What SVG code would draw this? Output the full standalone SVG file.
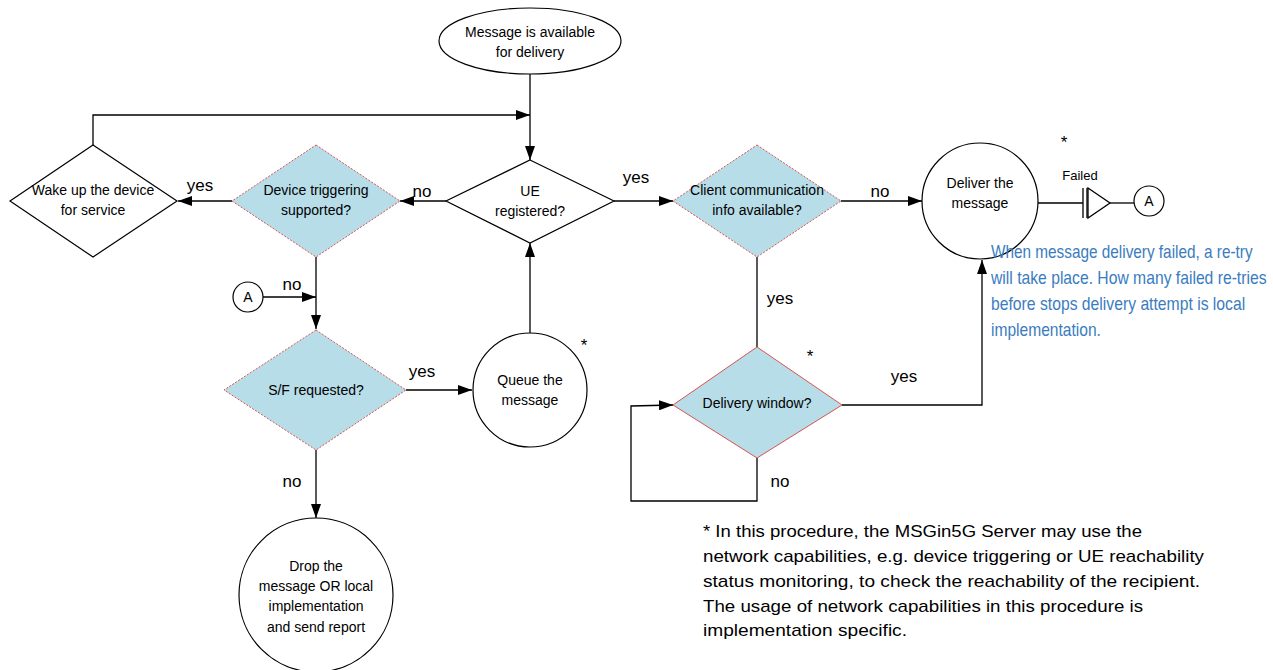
<svg xmlns="http://www.w3.org/2000/svg" width="1273" height="670" viewBox="0 0 1273 670">
<style>
.ln{fill:none;stroke:#000;stroke-width:1.3}
.arr{marker-end:url(#ah)}
.wd{fill:#fff;stroke:#000;stroke-width:1.2}
.bd{fill:#b7dde8;stroke:#d9534f;stroke-width:1;stroke-dasharray:2,1.5}
.bds{fill:#b7dde8;stroke:#d9534f;stroke-width:1}
.cir{fill:#fff;stroke:#000;stroke-width:1.2}
.t{font-family:"Liberation Sans",Arial,sans-serif;font-size:14px;fill:#000;text-anchor:middle}
.lb{font-family:"Liberation Sans",Arial,sans-serif;font-size:17px;fill:#000;text-anchor:middle}
.bl{font-family:"Liberation Sans",Arial,sans-serif;font-size:18px;fill:#3a7cc0}
.fn{font-family:"Liberation Sans",Arial,sans-serif;font-size:17px;fill:#000}
</style>
<defs>
<marker id="ah" markerUnits="userSpaceOnUse" markerWidth="14" markerHeight="10" viewBox="0 0 14 10" refX="14" refY="5" orient="auto">
<path d="M0,0 L14,5 L0,10 z" fill="#000"/>
</marker>
</defs>

<g id="connectors">
<path class="ln arr" d="M530,74 L530,160"/>
<path class="ln arr" d="M93,145 L93,115 L530,115"/>
<path class="ln arr" d="M446,201 L400,201"/>
<path class="ln arr" d="M232,201 L178,201"/>
<path class="ln arr" d="M316,257 L316,329"/>
<path class="ln arr" d="M263,297 L316,297"/>
<path class="ln arr" d="M406,390 L472,390"/>
<path class="ln arr" d="M530,333 L530,243"/>
<path class="ln arr" d="M316,450 L316,518"/>
<path class="ln arr" d="M614,201 L673,201"/>
<path class="ln arr" d="M841,201 L922,201"/>
<path class="ln" d="M757,257 L757,347"/>
<path class="ln arr" d="M842,405 L982,405 L982,260"/>
<path class="ln arr" d="M757,458 L757,501 L631,501 L631,406 L673,405"/>
<path class="ln" d="M1038,203 L1083,203"/>
<path class="ln" d="M1083,188 L1083,218 M1087,188 L1087,218"/>
<path class="ln" d="M1088,188 L1110,203 L1088,218 Z"/>
<path class="ln" d="M1110,203 L1134,203"/>
</g>

<g id="start">
<ellipse cx="530" cy="41" rx="91" ry="33" class="cir"/>
<text class="t" x="530" y="37">Message is available</text>
<text class="t" x="530" y="57">for delivery</text>
</g>

<g id="ue-registered">
<polygon class="wd" points="530,160 614,201 530,243 446,201"/>
<text class="t" x="530" y="196">UE</text>
<text class="t" x="530" y="216">registered?</text>
</g>

<g id="device-triggering">
<polygon class="bd" points="316,145 400,201 316,257 232,201"/>
<text class="t" x="316" y="195">Device triggering</text>
<text class="t" x="316" y="215">supported?</text>
</g>

<g id="wake-up">
<polygon class="wd" points="93,145 177,201 93,257 10,201"/>
<text class="t" x="93" y="195">Wake up the device</text>
<text class="t" x="93" y="215">for service</text>
</g>

<g id="connector-a-left">
<circle cx="248" cy="297" r="15" class="cir"/>
<text class="t" x="248" y="302">A</text>
</g>

<g id="sf-requested">
<polygon class="bd" points="316,330 406,390 316,450 224,390"/>
<text class="t" x="316" y="395">S/F requested?</text>
</g>

<g id="queue">
<circle cx="530" cy="390" r="57" class="cir"/>
<text class="t" x="530" y="385">Queue the</text>
<text class="t" x="530" y="405">message</text>
<text class="lb" x="584" y="351">*</text>
</g>

<g id="drop">
<circle cx="316" cy="595" r="77" class="cir"/>
<text class="t" x="316" y="571">Drop the</text>
<text class="t" x="316" y="591">message OR local</text>
<text class="t" x="316" y="611">implementation</text>
<text class="t" x="316" y="632">and send report</text>
</g>

<g id="client-comm">
<polygon class="bd" points="757,145 841,201 757,257 673,201"/>
<text class="t" x="757" y="195">Client communication</text>
<text class="t" x="757" y="215">info available?</text>
</g>

<g id="deliver">
<circle cx="980" cy="201" r="58" class="cir"/>
<text class="t" x="980" y="188">Deliver the</text>
<text class="t" x="980" y="208">message</text>
<text class="lb" x="1064" y="148">*</text>
<text class="t" x="1080" y="180" style="font-size:13px">Failed</text>
</g>

<g id="connector-a-right">
<circle cx="1149" cy="201" r="15" class="cir"/>
<text class="t" x="1149" y="206">A</text>
</g>

<g id="delivery-window">
<polygon class="bds" points="757,347 842,405 757,458 673,405"/>
<text class="t" x="757" y="408">Delivery window?</text>
<text class="lb" x="810" y="362">*</text>
</g>

<g id="labels">
<text class="lb" x="200" y="191">yes</text>
<text class="lb" x="422" y="197">no</text>
<text class="lb" x="292" y="290">no</text>
<text class="lb" x="636" y="183">yes</text>
<text class="lb" x="880" y="197">no</text>
<text class="lb" x="422" y="377">yes</text>
<text class="lb" x="292" y="487">no</text>
<text class="lb" x="780" y="304">yes</text>
<text class="lb" x="904" y="382">yes</text>
<text class="lb" x="780" y="487">no</text>
</g>

<g id="retry-note" transform="translate(991,0) scale(0.82,1)">
<text class="bl" x="0" y="258" textLength="319" lengthAdjust="spacingAndGlyphs">When message delivery failed, a re-try</text>
<text class="bl" x="0" y="284" textLength="336" lengthAdjust="spacingAndGlyphs">will take place. How many failed re-tries</text>
<text class="bl" x="0" y="310" textLength="310" lengthAdjust="spacingAndGlyphs">before stops delivery attempt is local</text>
<text class="bl" x="0" y="336" textLength="134" lengthAdjust="spacingAndGlyphs">implementation.</text>
</g>

<g id="footnote">
<text class="fn" x="703" y="537" textLength="439" lengthAdjust="spacingAndGlyphs">* In this procedure, the MSGin5G Server may use the</text>
<text class="fn" x="703" y="562" textLength="501" lengthAdjust="spacingAndGlyphs">network capabilities, e.g. device triggering or UE reachability</text>
<text class="fn" x="703" y="587" textLength="497" lengthAdjust="spacingAndGlyphs">status monitoring, to check the reachability of the recipient.</text>
<text class="fn" x="703" y="612" textLength="440" lengthAdjust="spacingAndGlyphs">The usage of network capabilities in this procedure is</text>
<text class="fn" x="703" y="636" textLength="204" lengthAdjust="spacingAndGlyphs">implementation specific.</text>
</g>
</svg>
